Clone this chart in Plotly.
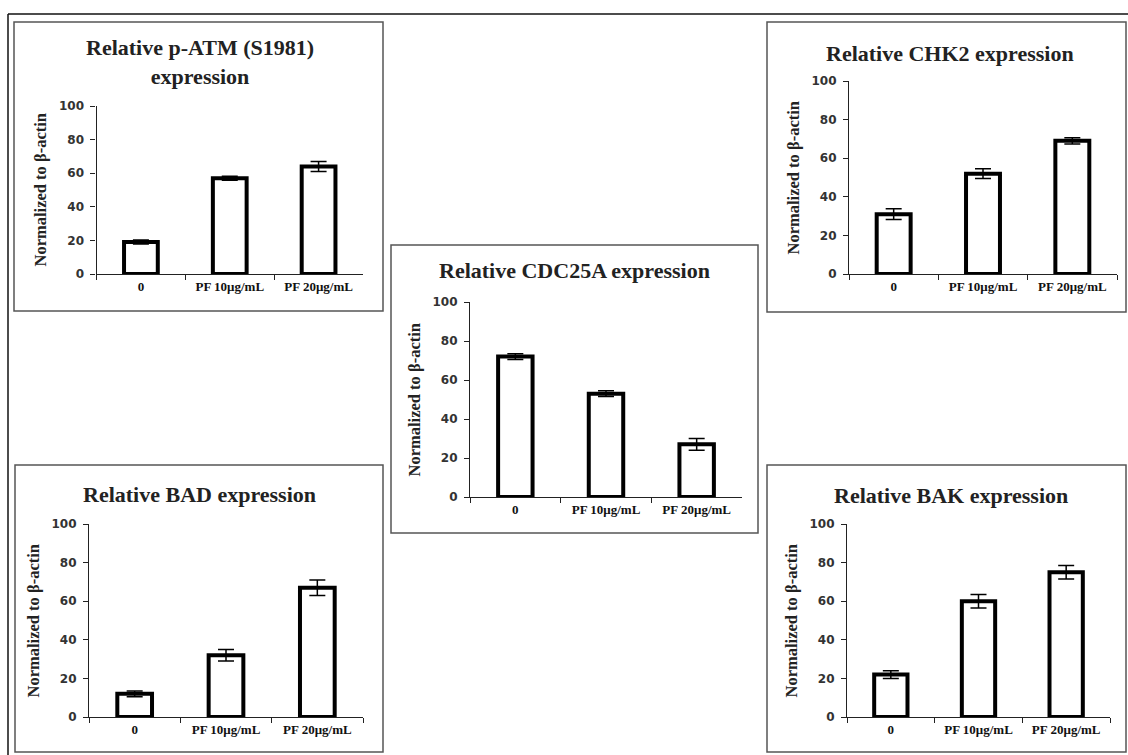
import plotly.graph_objects as go

W, H = 1128, 755

categories = ["0", "PF 10μg/mL", "PF 20μg/mL"]

titles = [
    "Relative p-ATM (S1981)<br>expression",
    "Relative CHK2 expression",
    "Relative CDC25A expression",
    "Relative BAD expression",
    "Relative BAK expression",
]

patm_values = [19, 57, 64]
patm_errors = [1.2, 1.2, 3.0]
chk2_values = [31, 52, 69]
chk2_errors = [2.8, 2.5, 1.6]
cdc25a_values = [72, 53, 27]
cdc25a_errors = [1.5, 1.5, 3.0]
bad_values = [12, 32, 67]
bad_errors = [1.5, 3.0, 4.0]
bak_values = [22, 60, 75]
bak_errors = [2.0, 3.5, 3.5]

y_title = "Normalized to β-actin"
y_ticks = [0, 20, 40, 60, 80, 100]

# layout in pixels: (plot x0, x1, y_top, y_bottom), box (x0, y0, x1, y1), title centre (x, y)
panels = [
    dict(vals=patm_values, errs=patm_errors, plot=(96.5, 363, 106, 274),
         box=(14, 22, 383, 311), title=(200, 62)),
    dict(vals=chk2_values, errs=chk2_errors, plot=(849, 1117, 81, 274),
         box=(767, 22, 1126, 312), title=(950, 53)),
    dict(vals=cdc25a_values, errs=cdc25a_errors, plot=(470, 742, 302, 497),
         box=(391, 245, 758, 533), title=(574, 270)),
    dict(vals=bad_values, errs=bad_errors, plot=(89, 363, 524, 717),
         box=(15, 465, 383, 752), title=(199, 494)),
    dict(vals=bak_values, errs=bak_errors, plot=(847, 1110, 524, 717),
         box=(767, 465, 1126, 752), title=(951, 495)),
]

SERIF = "Liberation Serif, Times New Roman, serif"
SANS = "DejaVu Sans, Verdana, sans-serif"

fig = go.Figure()
shapes = []
annotations = []

def px(x):
    return x / W

def py(y):
    return 1 - y / H

# outer frame (top and left edges)
shapes.append(dict(type="line", xref="paper", yref="paper", x0=px(8), x1=1.0,
                   y0=py(14), y1=py(14), line=dict(color="#111", width=1.5)))
shapes.append(dict(type="line", xref="paper", yref="paper", x0=px(8), x1=px(8),
                   y0=py(14), y1=0, line=dict(color="#111", width=1.5)))

for i, p in enumerate(panels, start=1):
    xa = "x" if i == 1 else f"x{i}"
    ya = "y" if i == 1 else f"y{i}"
    fig.add_trace(go.Bar(
        x=categories, y=p["vals"], xaxis=xa, yaxis=ya,
        width=0.38,
        marker=dict(color="white", line=dict(color="black", width=4)),
        error_y=dict(type="data", array=p["errs"], visible=True,
                     color="black", thickness=1.5, width=8),
        showlegend=False, hoverinfo="skip",
    ))
    x0, x1, yt, yb = p["plot"]
    fig.layout[f"xaxis{'' if i == 1 else i}"] = dict(
        domain=[px(x0), px(x1)], anchor=ya, type="category",
        showline=True, linecolor="#222", linewidth=1.2,
        ticks="outside", tickson="boundaries", ticklen=5, tickcolor="#222",
        tickfont=dict(family=SERIF, size=13, color="#111", weight="bold"),
        ticklabelstandoff=0, automargin=False,
        showgrid=False, zeroline=False, fixedrange=True,
    )
    fig.layout[f"yaxis{'' if i == 1 else i}"] = dict(
        domain=[py(yb), py(yt)], anchor=xa, range=[0, 100],
        tickvals=y_ticks,
        showline=True, linecolor="#222", linewidth=1.2,
        ticks="outside", ticklen=5, tickcolor="#222",
        tickfont=dict(family=SANS, size=12, color="#333", weight="bold"),
        ticklabelstandoff=4, automargin=False,
        showgrid=False, zeroline=False, fixedrange=True,
    )
    bx0, by0, bx1, by1 = p["box"]
    shapes.append(dict(type="rect", xref="paper", yref="paper",
                       x0=px(bx0), x1=px(bx1), y0=py(by1), y1=py(by0),
                       line=dict(color="#555", width=1.5)))
    tx, ty = p["title"]
    annotations.append(dict(xref="paper", yref="paper", x=px(tx), y=py(ty),
                            text=titles[i - 1], showarrow=False,
                            xanchor="center", yanchor="middle",
                            font=dict(family=SERIF, size=22, color="#222", weight="bold")))
    annotations.append(dict(xref="paper", yref="paper", x=px(x0 - 56), y=py((yt + yb) / 2),
                            text=y_title, textangle=-90, showarrow=False,
                            xanchor="center", yanchor="middle",
                            font=dict(family=SERIF, size=16.5, color="#222", weight="bold")))

fig.update_layout(
    width=W, height=H, autosize=False,
    margin=dict(l=0, r=0, t=0, b=0, pad=0, autoexpand=False),
    paper_bgcolor="white", plot_bgcolor="white",
    shapes=shapes, annotations=annotations,
    bargap=0.6,
)

fig.write_html(
    "out.html",
    config={"displayModeBar": False},
    post_script="document.body.style.margin='0';document.body.style.overflow='hidden';",
)
